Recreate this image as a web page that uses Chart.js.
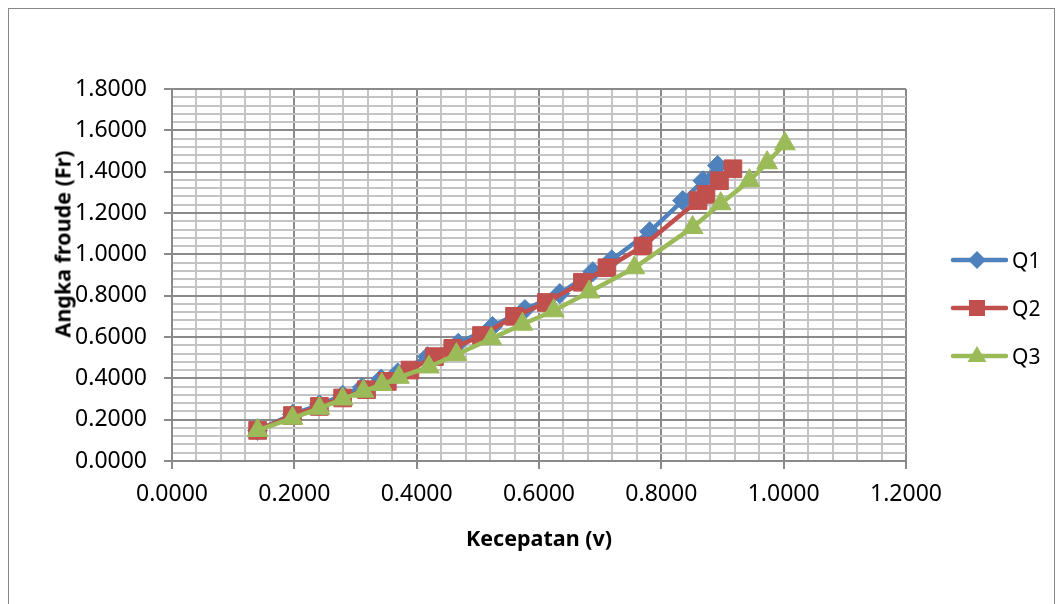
<!DOCTYPE html>
<html>
<head>
<meta charset="utf-8">
<script src="https://cdn.jsdelivr.net/npm/chart.js@4"></script>
<style>
  html, body { margin: 0; padding: 0; background: #fff; }
  #wrap { position: relative; width: 1062px; height: 604px; overflow: hidden; font-family: 'Noto Sans', sans-serif; }
  #frame { position: absolute; left: 8px; top: 8px; width: 1047px; height: 610px; border: 1px solid #878787; box-sizing: border-box; }
  #myChart { position: absolute; left: 0; top: 0; }
  .ttl { position: absolute; font-weight: bold; font-size: 21.5px; color: #000; white-space: nowrap; }
  #xTitle { left: 539px; top: 537px; transform: translate(-50%, -50%); }
  #yTitle { left: 62px; top: 244px; transform: translate(-50%, -50%) rotate(-90deg); }
  .leg { position: absolute; left: 950px; height: 30px; display: flex; align-items: center; font-size: 21px; color: #000; }
  .leg svg { margin-right: 4px; }
</style>
</head>
<body>
<div id="wrap">
  <div id="frame"></div>
  <canvas id="myChart" width="1062" height="604"></canvas>
  <div class="ttl" id="xTitle">Kecepatan (v)</div>
  <div class="ttl" id="yTitle">Angka froude (Fr)</div>
  <div id="legend"></div>
</div>
<script>
// kecepatan (v) and angka froude (Fr) per debit
var vQ1 = [0.140, 0.197, 0.241, 0.279, 0.311, 0.342, 0.369, 0.418, 0.468, 0.524, 0.577, 0.634, 0.688, 0.719, 0.781, 0.835, 0.868, 0.892];
var frQ1 = [0.148, 0.226, 0.272, 0.318, 0.356, 0.397, 0.426, 0.505, 0.570, 0.651, 0.733, 0.810, 0.916, 0.974, 1.110, 1.260, 1.356, 1.430];

var vQ2 = [0.140, 0.197, 0.241, 0.279, 0.318, 0.352, 0.389, 0.429, 0.459, 0.506, 0.560, 0.612, 0.671, 0.711, 0.770, 0.860, 0.873, 0.895, 0.917];
var frQ2 = [0.148, 0.220, 0.264, 0.305, 0.345, 0.385, 0.440, 0.505, 0.545, 0.607, 0.700, 0.767, 0.865, 0.935, 1.040, 1.260, 1.290, 1.356, 1.414];

var vQ3 = [0.140, 0.197, 0.241, 0.279, 0.313, 0.343, 0.371, 0.420, 0.465, 0.522, 0.573, 0.624, 0.682, 0.756, 0.851, 0.897, 0.944, 0.973, 1.002];
var frQ3 = [0.148, 0.207, 0.255, 0.300, 0.338, 0.370, 0.405, 0.455, 0.515, 0.592, 0.662, 0.727, 0.818, 0.935, 1.130, 1.245, 1.356, 1.443, 1.535];

var seriesNames = ['Q1', 'Q2', 'Q3'];
var seriesColors = ['#4F81BD', '#C0504D', '#9BBB59'];
var seriesMarkers = ['rectRot', 'rect', 'triangle'];
var markerSizes = [10, 12.5, 12];

var xMin = 0, xMax = 1.2, yMin = 0, yMax = 1.8;
var majorStep = 0.2, minorStep = 0.04;

function pairs(xs, ys) {
    return xs.map(function (x, i) { return { x: x, y: ys[i] }; });
}

function isMajor(v) {
    var r = v / majorStep;
    return Math.abs(r - Math.round(r)) < 1e-6;
}

var allX = [vQ1, vQ2, vQ3];
var allY = [frQ1, frQ2, frQ3];

var datasets = seriesNames.map(function (name, i) {
    return {
        label: name,
        data: pairs(allX[i], allY[i]),
        borderColor: seriesColors[i],
        backgroundColor: seriesColors[i],
        borderWidth: 4.5,
        pointStyle: seriesMarkers[i],
        pointRadius: markerSizes[i],
        pointBorderWidth: 1,
        pointBorderColor: seriesColors[i],
        pointBackgroundColor: seriesColors[i],
        tension: 0,
        order: 3 - i
    };
});

function gridOpts() {
    return {
        color: function (c) { return isMajor(c.tick.value) ? '#8a8a8a' : '#c4c4c4'; },
        lineWidth: 2,
        tickColor: function (c) { return isMajor(c.tick.value) ? '#8a8a8a' : 'rgba(0,0,0,0)'; },
        tickLength: 8
    };
}

function tickLabel(v) {
    return isMajor(v) ? v.toFixed(4) : '';
}

Chart.defaults.font.family = "'Noto Sans', sans-serif";
Chart.defaults.color = '#000';

var ctx = document.getElementById('myChart').getContext('2d');
var myChart = new Chart(ctx, {
    type: 'line',
    data: { datasets: datasets },
    options: {
        responsive: false,
        animation: false,
        layout: { padding: { top: 89, left: 0, right: 156, bottom: 0 } },
        plugins: { legend: { display: false }, tooltip: { enabled: false } },
        scales: {
            x: {
                type: 'linear',
                min: xMin, max: xMax,
                grid: gridOpts(),
                border: { color: '#8a8a8a', width: 2 },
                ticks: {
                    stepSize: minorStep, autoSkip: false, maxRotation: 0, minRotation: 0,
                    font: { size: 23 }, padding: 12,
                    callback: tickLabel
                },
                afterFit: function (s) { s.height = 604 - 461; }
            },
            y: {
                type: 'linear',
                min: yMin, max: yMax,
                grid: gridOpts(),
                border: { color: '#8a8a8a', width: 2 },
                ticks: {
                    stepSize: minorStep, autoSkip: false,
                    font: { size: 23 }, padding: 17,
                    callback: tickLabel
                },
                afterFit: function (s) { s.width = 172; }
            }
        }
    }
});

// legend: line with marker, like the spreadsheet
var legendTop = [260, 308, 356];
var markerSvg = [
    '<polygon points="27,6 36,15 27,24 18,15" />',
    '<rect x="19" y="7" width="16" height="16" />',
    '<polygon points="27,5 36.5,21 17.5,21" />'
];
var legend = document.getElementById('legend');
seriesNames.forEach(function (name, i) {
    var d = document.createElement('div');
    d.className = 'leg';
    d.style.top = (legendTop[i] - 15) + 'px';
    d.innerHTML = '<svg width="58" height="30"><line x1="3" y1="15" x2="56" y2="15" stroke="' + seriesColors[i] +
        '" stroke-width="4.5" stroke-linecap="round"/><g fill="' + seriesColors[i] + '">' + markerSvg[i] + '</g></svg>' + name;
    legend.appendChild(d);
});
</script>
</body>
</html>
